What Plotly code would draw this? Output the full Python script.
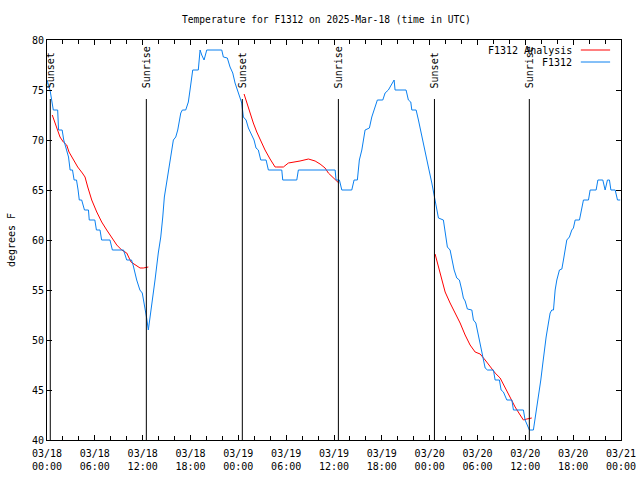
import plotly.graph_objects as go
import pandas as pd

# ---- data (hours after 2025-03-18 00:00 UTC, degrees F) ----
blue_hours = [
    0.00, 0.38, 0.79, 1.00, 1.34, 1.45, 1.90, 2.10, 2.30, 2.70,
    2.90, 3.20, 3.40, 3.70, 3.90, 4.05, 4.35, 4.70, 5.20, 5.30,
    6.00, 6.20, 6.65, 6.85, 7.90, 8.20, 9.60, 10.00, 10.60, 10.80,
    11.25, 11.65, 11.95, 12.30, 12.50, 12.71, 13.14, 13.34, 13.55, 13.96,
    14.27, 14.52, 14.72, 15.02, 15.35, 15.65, 15.85, 16.15, 16.40, 16.78,
    16.98, 17.40, 17.73, 17.94, 18.16, 18.28, 18.98, 19.20, 19.41, 19.70,
    20.04, 21.92, 22.12, 22.62, 22.96, 23.30, 23.59, 24.00, 24.43, 24.63,
    24.97, 25.26, 25.68, 25.97, 26.22, 26.51, 26.81, 27.48, 27.77, 29.45,
    29.57, 31.33, 31.53, 36.14, 36.26, 36.68, 36.98, 38.23, 38.52, 38.93,
    39.18, 39.49, 39.90, 40.44, 40.74, 41.03, 41.44, 42.12, 42.41, 42.82,
    43.54, 43.66, 45.04, 45.33, 45.63, 45.76, 46.30, 46.59, 47.14, 47.55,
    47.84, 48.27, 48.68, 49.10, 49.72, 49.94, 50.22, 50.56, 50.78, 51.07,
    51.40, 51.73, 52.03, 52.23, 52.45, 52.73, 53.29, 53.49, 53.79, 54.04,
    54.33, 54.67, 54.96, 55.25, 56.00, 56.21, 56.75, 56.96, 57.25, 57.68,
    58.31, 58.51, 59.76, 59.97, 60.26, 60.51, 61.01, 61.23, 61.64, 61.94,
    62.20, 62.36, 62.61, 62.90, 63.11, 63.32, 63.53, 63.74, 63.95, 64.28,
    64.58, 64.78, 64.99, 65.20, 65.53, 65.83, 66.03, 66.25, 66.79, 67.00,
    67.29, 67.92, 68.13, 68.88, 69.10, 69.72, 70.01, 70.30, 70.55, 70.73,
    71.27, 71.56, 71.90]
blue_temp = [
    76, 75, 73, 73, 73, 71, 71, 70, 69.5, 68.3,
    67, 67, 66, 66, 65, 64, 64, 63, 63, 62,
    62, 61, 61, 60, 60, 59, 59, 58, 58, 57.5,
    56, 55, 54.7, 53.3, 52.2, 51, 53.3, 54.5, 56, 58.7,
    60.3, 62.3, 64.3, 65.8, 67.5, 69, 70, 70.3, 71, 72.7,
    73, 73, 73.8, 75, 76.7, 77, 77, 79, 78.5, 78,
    79, 79, 78.3, 78.2, 77.3, 76.7, 75.7, 74.8, 73.7, 72.3,
    72, 71.2, 70.5, 70, 69.2, 69, 68, 68, 67, 67,
    66, 66, 67, 67, 66, 66, 65, 65, 66, 66,
    68, 69, 71, 71.2, 72.3, 73, 74, 74, 74.7, 75,
    76, 75, 75, 74, 73.8, 73, 73, 72, 70, 68.7,
    67.3, 65.7, 64, 62.2, 62, 61, 59.3, 59, 58.2, 57,
    56.2, 56, 55, 54.2, 53.9, 53.1, 53, 52, 51.7, 50.7,
    49.5, 48, 47.2, 47, 47, 46, 46, 45, 44.8, 44,
    44, 43, 43, 42, 41.5, 41, 41, 42.2, 44, 46,
    47.7, 49, 50.3, 51.7, 52.7, 53, 53, 55, 56, 57,
    57.1, 58, 59, 60, 60.3, 61, 61.2, 62, 62, 63,
    64, 64, 65, 65, 66, 66, 65, 66, 66, 65,
    65, 64, 64]

red1_hours = [0.66, 1.00, 1.34, 1.63, 2.05, 2.47, 2.76, 3.30, 3.85, 4.43, 4.77, 5.11, 5.61,
              6.24, 6.86, 7.49, 8.12, 8.75, 9.37, 10.00, 10.54, 11.04, 11.67, 12.08, 12.71]
red1_temp = [72.5, 71.7, 71, 70.3, 69.8, 69.5, 68.8, 68, 67.3, 66.7, 66.3, 65.3, 64,
             62.8, 61.8, 61, 60.2, 59.5, 59, 58.7, 57.8, 57.5, 57.2, 57.2, 57.3]
red2_hours = [24.72, 25.06, 25.47, 25.88, 26.31, 26.73, 27.35, 27.98, 28.61, 28.82, 29.65,
              30.28, 31.12, 31.74, 32.79, 33.63, 34.25, 34.88, 35.29, 35.92, 36.34, 36.60]
red2_temp = [74.6, 73.7, 72.7, 71.7, 70.8, 70, 69, 68.1, 67.3, 67.3, 67.3,
             67.7, 67.8, 67.9, 68.1, 67.9, 67.6, 67.2, 66.7, 66.2, 65.9, 65.7]
red3_hours = [48.68, 49.10, 49.52, 49.94, 50.56, 51.19, 51.82, 52.45, 53.07, 53.70, 54.33,
              54.96, 55.58, 56.21, 56.84, 57.47, 58.09, 58.72, 59.35, 59.76, 60.19, 60.81]
red3_temp = [58.6, 57.3, 56, 54.8, 53.7, 52.7, 51.7, 50.5, 49.5, 48.8, 48.6,
             48, 47.3, 46.7, 46.2, 45.2, 44.2, 43.3, 42.5, 42, 42.1, 42.2]

event_names = ["Sunset", "Sunrise", "Sunset", "Sunrise", "Sunset", "Sunrise"]
event_hours = [0.41, 12.46, 24.50, 36.55, 48.60, 60.50]
event_line_top = 74.1
event_label_y = 75.0

tick_hours = [0, 6, 12, 18, 24, 30, 36, 42, 48, 54, 60, 66, 72]
tick_labels = ["03/18<br>00:00", "03/18<br>06:00", "03/18<br>12:00", "03/18<br>18:00",
               "03/19<br>00:00", "03/19<br>06:00", "03/19<br>12:00", "03/19<br>18:00",
               "03/20<br>00:00", "03/20<br>06:00", "03/20<br>12:00", "03/20<br>18:00",
               "03/21<br>00:00"]

series_names = ["F1312 Analysis", "F1312"]
series_colors = ["#ff0000", "#0a80f0"]

BASE = pd.Timestamp("2025-03-18 00:00")


def ts(hours):
    return [(BASE + pd.Timedelta(hours=h)).strftime("%Y-%m-%d %H:%M:%S") for h in hours]


FONT = "DejaVu Sans Mono"

fig = go.Figure()

# Analysis (red) - three segments separated by gaps
rx = ts(red1_hours) + [None] + ts(red2_hours) + [None] + ts(red3_hours)
ry = red1_temp + [None] + red2_temp + [None] + red3_temp
fig.add_trace(go.Scatter(x=rx, y=ry, mode="lines", name=series_names[0],
                         line=dict(color=series_colors[0], width=1), connectgaps=False,
                         showlegend=False))
fig.add_trace(go.Scatter(x=ts(blue_hours), y=blue_temp, mode="lines", name=series_names[1],
                         line=dict(color=series_colors[1], width=1), showlegend=False))

# sunrise / sunset markers
for name, h in zip(event_names, event_hours):
    t = ts([h])[0]
    fig.add_shape(type="line", xref="x", yref="y", x0=t, x1=t, y0=40, y1=event_line_top,
                  line=dict(color="black", width=1), layer="above")
    fig.add_annotation(x=t, y=event_label_y, xref="x", yref="y", text=name, textangle=-90,
                       showarrow=False, xanchor="center", yanchor="bottom",
                       font=dict(family=FONT, size=10, color="black"))

# legend drawn gnuplot-style (text then sample)
legend_rows_y = [0.975, 0.945]
for name, color, yy in zip(series_names, series_colors, legend_rows_y):
    fig.add_annotation(x=0.918, y=yy, xref="paper", yref="paper", text=name, showarrow=False,
                       xanchor="right", yanchor="middle",
                       font=dict(family=FONT, size=10, color="black"))
    fig.add_shape(type="line", xref="paper", yref="paper", x0=0.930, x1=0.981, y0=yy, y1=yy,
                  line=dict(color=color, width=1))

fig.update_layout(
    width=640, height=480, autosize=False,
    margin=dict(l=47, r=19, t=40, b=40, autoexpand=False),
    paper_bgcolor="white", plot_bgcolor="white",
    font=dict(family=FONT, size=10, color="black"),
    title=dict(text="Temperature for F1312 on 2025-Mar-18 (time in UTC)",
               x=0.51, xref="container", xanchor="center",
               y=1 - 20 / 480, yref="container", yanchor="middle",
               automargin=False,
               font=dict(family=FONT, size=9.6, color="black")),
    showlegend=False,
)
fig.update_xaxes(type="date", range=[ts([0])[0], ts([72])[0]], automargin=False,
                 tickvals=ts(tick_hours), ticktext=tick_labels,
                 ticks="inside", ticklen=5, tickcolor="black", ticklabelstandoff=4,
                 minor=dict(dtick=2 * 3600 * 1000, tick0=ts([0])[0], ticks="inside",
                            ticklen=4, tickcolor="black"),
                 showline=True, linecolor="black", linewidth=1, mirror="ticks",
                 showgrid=False, zeroline=False,
                 tickfont=dict(family=FONT, size=10, color="black"))
fig.update_yaxes(range=[40, 80], tick0=40, dtick=5, automargin=False,
                 ticks="inside", ticklen=5, tickcolor="black",
                 showline=True, linecolor="black", linewidth=1, mirror="ticks",
                 showgrid=False, zeroline=False,
                 title=dict(text="degrees F", standoff=14,
                            font=dict(family=FONT, size=10, color="black")),
                 tickfont=dict(family=FONT, size=10, color="black"))

fig.write_html("out.html", config={"displayModeBar": False},
               post_script="document.body.style.margin='0';document.body.style.padding='0';")
